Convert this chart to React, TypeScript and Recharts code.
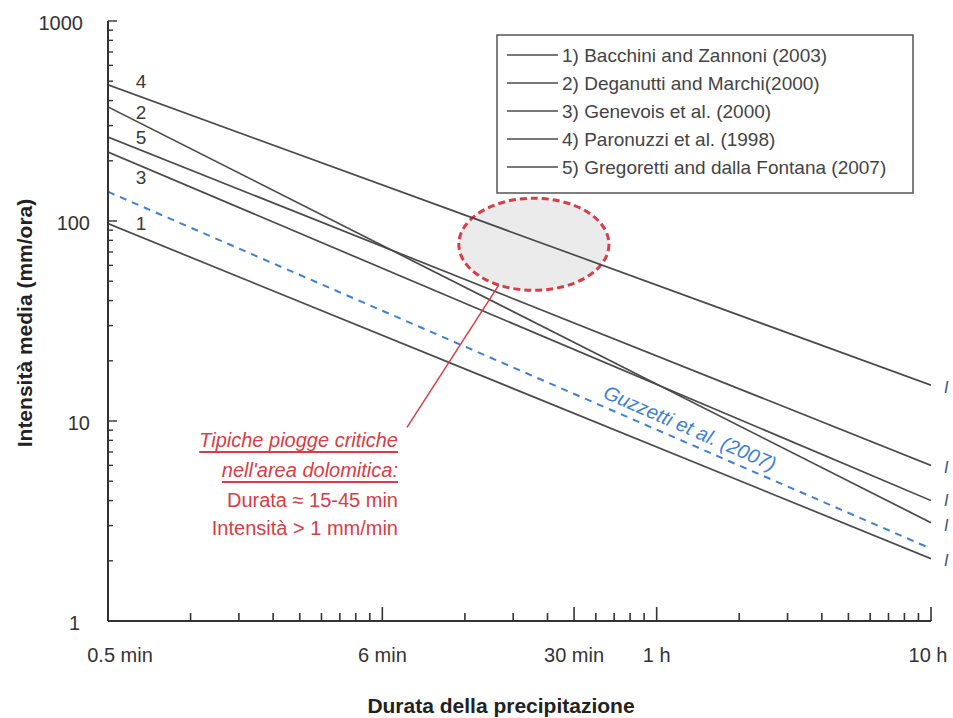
import React from 'react';
import { LineChart, Line, XAxis, YAxis, ReferenceArea, ReferenceLine } from 'recharts';

// durata in ore (0.01 h = 0.6 min ... 10 h)
const durations = [0.01, 10];
const bacchini = [97, 2.05];
const deganutti = [372, 3.1];
const genevois = [221, 4.0];
const paronuzzi = [480, 15.1];
const gregoretti = [263, 6.0];
const guzzetti = [140, 2.3];

const seriesNames = [
  '1) Bacchini and Zannoni (2003)',
  '2) Deganutti and Marchi(2000)',
  '3) Genevois et al. (2000)',
  '4) Paronuzzi et al. (1998)',
  '5) Gregoretti and dalla Fontana (2007)',
];
const seriesKeys = ['s1', 's2', 's3', 's4', 's5'];

const xTicks = [
  0.01, 0.02, 0.03, 0.04, 0.05, 0.06, 0.07, 0.08, 0.09,
  0.1, 0.2, 0.3, 0.4, 0.5, 0.6, 0.7, 0.8, 0.9,
  1, 2, 3, 4, 5, 6, 7, 8, 9, 10,
];
const xTickLabels: Record<string, string> = {
  '0.01': '0.5 min',
  '0.1': '6 min',
  '0.5': '30 min',
  '1': '1 h',
  '10': '10 h',
};
const yTicks = [
  1, 2, 3, 4, 5, 6, 7, 8, 9,
  10, 20, 30, 40, 50, 60, 70, 80, 90,
  100, 200, 300, 400, 500, 600, 700, 800, 900, 1000,
];
const yMajor = [1, 10, 100, 1000];

// zona delle piogge critiche (ellisse) e freccia
const critDur = [0.19, 0.67];
const critInt = [45, 130];
const pointer = [
  { x: 0.266, y: 47.9 },
  { x: 0.123, y: 9.3 },
];

const data = durations.map((h, i) => ({
  h,
  s1: bacchini[i],
  s2: deganutti[i],
  s3: genevois[i],
  s4: paronuzzi[i],
  s5: gregoretti[i],
  g: guzzetti[i],
}));

const AXIS = '#333';
const LINE = '#4a4a4a';
const RED = '#d83c45';
const BLUE = '#3d80d4';
const FONT = 'Liberation Sans, Arial, sans-serif';

const BottomTick = (props: any) => {
  const { x, y, payload } = props;
  const label = xTickLabels[String(payload.value)];
  const len = label ? 14 : 8;
  return (
    <g>
      <line x1={x} x2={x} y1={y} y2={y - len} stroke={AXIS} strokeWidth={1.6} />
      {label && (
        <text
          x={x + (payload.value === 0.01 ? 12 : payload.value === 10 ? -3 : 0)}
          y={y + 34}
          textAnchor="middle"
          dominantBaseline="central"
          fontFamily={FONT}
          fontSize={20}
          fill="#333"
        >
          {label}
        </text>
      )}
    </g>
  );
};

const TopTick = (props: any) => {
  const { x, y, payload } = props;
  const len = xTickLabels[String(payload.value)] ? 9 : 5;
  return <line x1={x} x2={x} y1={y} y2={y + len} stroke={AXIS} strokeWidth={1.4} />;
};

const yLabelEnd: Record<string, number> = { '1': 80, '10': 90, '100': 90, '1000': 83 };

const LeftTick = (props: any) => {
  const { x, y, payload } = props;
  const major = yMajor.includes(payload.value);
  return (
    <g>
      <line x1={x} x2={x + (major ? 9 : 5)} y1={y} y2={y} stroke={AXIS} strokeWidth={1.4} />
      {major && (
        <text
          x={yLabelEnd[String(payload.value)]}
          y={y + 2}
          textAnchor="end"
          dominantBaseline="central"
          fontFamily={FONT}
          fontSize={20}
          fill="#333"
        >
          {payload.value}
        </text>
      )}
    </g>
  );
};

const RightTick = (props: any) => {
  const { x, y, payload } = props;
  const major = yMajor.includes(payload.value);
  return <line x1={x} x2={x - (major ? 9 : 5)} y1={y} y2={y} stroke={AXIS} strokeWidth={1.4} />;
};

const Ellipse = (p: any) => (
  <ellipse
    cx={p.x + p.width / 2}
    cy={p.y + p.height / 2}
    rx={p.width / 2}
    ry={p.height / 2}
    fill="#ebebeb"
    stroke={RED}
    strokeWidth={3}
    strokeDasharray="7 4"
  />
);

const lineNumbers = [
  { t: '4', y: 81 },
  { t: '2', y: 112 },
  { t: '5', y: 137 },
  { t: '3', y: 177 },
  { t: '1', y: 223 },
];
const edgeMarks = [387, 467, 500, 525, 560];

export default function App() {
  return (
    <div style={{ position: 'absolute', left: 0, top: 0, width: 953, height: 718, overflow: 'hidden', background: '#fff' }}>
      <LineChart width={953} height={718} data={data} margin={{ top: 21, right: 22, bottom: 37, left: 8 }}>
        <XAxis
          xAxisId="b"
          dataKey="h"
          type="number"
          scale="log"
          domain={[0.01, 10]}
          ticks={xTicks}
          interval={0}
          tick={<BottomTick />}
          tickSize={0}
          tickMargin={0}
          tickLine={false}
          axisLine={{ stroke: AXIS, strokeWidth: 2 }}
          height={60}
          allowDataOverflow
        />
        <XAxis
          xAxisId="t"
          orientation="top"
          dataKey="h"
          type="number"
          scale="log"
          domain={[0.01, 10]}
          ticks={xTicks}
          interval={0}
          tick={<TopTick />}
          tickSize={0}
          tickMargin={0}
          tickLine={false}
          axisLine={{ stroke: AXIS, strokeWidth: 2 }}
          height={0}
          allowDataOverflow
        />
        <YAxis
          yAxisId="l"
          type="number"
          scale="log"
          domain={[1, 1000]}
          ticks={yTicks}
          interval={0}
          tick={<LeftTick />}
          tickSize={0}
          tickMargin={0}
          tickLine={false}
          axisLine={{ stroke: AXIS, strokeWidth: 2 }}
          width={100}
          allowDataOverflow
        />
        <YAxis
          yAxisId="r"
          orientation="right"
          type="number"
          scale="log"
          domain={[1, 1000]}
          ticks={yTicks}
          interval={0}
          tick={<RightTick />}
          tickSize={0}
          tickMargin={0}
          tickLine={false}
          axisLine={{ stroke: AXIS, strokeWidth: 2.5 }}
          width={0}
          allowDataOverflow
        />
        <ReferenceArea
          xAxisId="b"
          yAxisId="l"
          x1={critDur[0]}
          x2={critDur[1]}
          y1={critInt[0]}
          y2={critInt[1]}
          shape={<Ellipse />}
        />
        {seriesKeys.map((k) => (
          <Line
            key={k}
            xAxisId="b"
            yAxisId="l"
            dataKey={k}
            stroke={LINE}
            strokeWidth={1.7}
            dot={false}
            isAnimationActive={false}
          />
        ))}
        <Line
          xAxisId="b"
          yAxisId="l"
          dataKey="g"
          stroke={BLUE}
          strokeWidth={2}
          strokeDasharray="7 6"
          dot={false}
          isAnimationActive={false}
        />
        <ReferenceLine xAxisId="b" yAxisId="l" segment={pointer} stroke={RED} strokeWidth={1.5} />
      </LineChart>

      <svg width={953} height={718} style={{ position: 'absolute', left: 0, top: 0, pointerEvents: 'none' }} fontFamily={FONT}>
        <text transform="translate(24,323) rotate(-90)" textAnchor="middle" dominantBaseline="central" fontSize={21} fontWeight="bold" fill="#222">
          Intensità media (mm/ora)
        </text>
        <text x={501} y={705} textAnchor="middle" dominantBaseline="central" fontSize={21} fontWeight="bold" fill="#222">
          Durata della precipitazione
        </text>

        {lineNumbers.map((n) => (
          <text key={n.t} x={141} y={n.y} textAnchor="middle" dominantBaseline="central" fontSize={19} fill="#3a3a3a">
            {n.t}
          </text>
        ))}

        <rect x={497} y={35} width={416} height={158} fill="#fff" stroke="#555" strokeWidth={1.5} />
        {seriesNames.map((name, i) => (
          <g key={name}>
            <line x1={507} x2={558} y1={55 + i * 28} y2={55 + i * 28} stroke={LINE} strokeWidth={1.7} />
            <text x={562} y={55 + i * 28} dominantBaseline="central" fontSize={19} fill="#444">
              {name}
            </text>
          </g>
        ))}

        <g fill={RED} fontSize={20} textAnchor="end">
          <text x={398} y={440} dominantBaseline="central" fontStyle="italic" textDecoration="underline">
            Tipiche piogge critiche
          </text>
          <text x={398} y={470} dominantBaseline="central" fontStyle="italic" textDecoration="underline">
            nell'area dolomitica:
          </text>
          <text x={398} y={500} dominantBaseline="central">
            Durata ≈ 15-45 min
          </text>
          <text x={398} y={528} dominantBaseline="central">
            Intensità &gt; 1 mm/min
          </text>
        </g>

        <text
          transform="translate(690,428) rotate(23.5)"
          textAnchor="middle"
          dominantBaseline="central"
          fontSize={20}
          fontStyle="italic"
          fill={BLUE}
        >
          Guzzetti et al. (2007)
        </text>

        {edgeMarks.map((y) => (
          <text key={y} x={944} y={y} dominantBaseline="central" fontSize={16} fontStyle="italic" fill="#35507f">
            I
          </text>
        ))}
      </svg>
    </div>
  );
}
